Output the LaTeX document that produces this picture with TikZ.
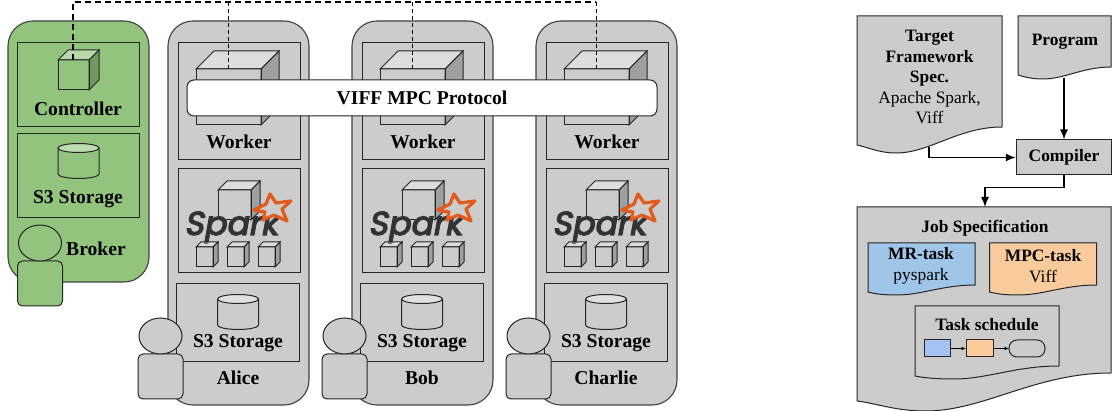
\documentclass[tikz,border=0pt]{standalone}
\usepackage{fontspec}
\setmainfont{Liberation Serif}
\newfontfamily\sparkfont[FakeSlant=0.18,FakeBold=4]{Poppins}
\usetikzlibrary{shapes, positioning, arrows.meta}

\definecolor{panelgray}{HTML}{CCCCCC}
\definecolor{brokergreen}{HTML}{93C47D}
\definecolor{sparkorange}{HTML}{E25A1C}
\definecolor{mrblue}{HTML}{9FC5E8}
\definecolor{mpcorange}{HTML}{F9CB9C}
\definecolor{boxblue}{HTML}{A4C2F4}

\tikzset{
    panel/.style={draw=black!75, rounded corners=25pt, line width=1.1pt},
    inbox/.style={draw=black!85, line width=1pt},
    bigtext/.style={font=\fontsize{19.6}{22}\selectfont\bfseries},
    smalltext/.style={font=\fontsize{17.4}{20.5}\selectfont, align=center},
    boldsmall/.style={font=\fontsize{17.4}{20}\selectfont\bfseries},
    front/.style={draw=black!85, line width=1pt, inner sep=0, outer sep=0, anchor=north west},
    flow/.style={line width=1.5pt, -{Latex[length=10pt,width=8pt]}},
    wire/.style={line width=1pt, dash pattern=on 4pt off 3pt},
    mainwire/.style={line width=1.7pt, dash pattern=on 6pt off 4pt},
    tinyflow/.style={line width=0.9pt, -{Latex[length=4.5pt,width=4pt]}},
}

% name, x, y, width, height, depth
\newcommand{\cubebox}[6]{
    \node[front, minimum width=#4pt, minimum height=#5pt] (#1) at (#2,#3) {};
    \draw[line width=1pt, draw=black!85, fill=white, fill opacity=.35]
        (#1.north west) -- ++(#6,-#6) -- ++(#4,0) -- ++(-#6,#6) -- cycle;
    \draw[line width=1pt, draw=black!85, fill=black, fill opacity=.22]
        (#1.north east) -- ++(#6,-#6) -- ++(0,#5) -- ++(-#6,#6) -- cycle;
}
% name, centre x, top y
\newcommand{\drumbox}[3]{
    \draw[inbox] (#2-20.5,#3) -- ++(0,26) arc[start angle=180, end angle=360, x radius=20.5pt, y radius=4.5pt] -- ++(0,-26);
    \node[ellipse, draw=black!85, line width=1pt, fill=white, fill opacity=.4, inner sep=0, outer sep=0,
          minimum width=41pt, minimum height=9pt] (#1) at (#2,#3) {};
}
% name, centre x, top y of the head, fill
\newcommand{\personbox}[4]{
    \draw[inbox, fill=#4, rounded corners=5pt] (#2-22.5,#3+81) -- (#2-22.5,#3+36) -- (#2+22.5,#3+36) -- (#2+22.5,#3+81) -- cycle;
    \node[ellipse, draw=black!85, line width=1pt, fill=#4, inner sep=0, outer sep=0,
          minimum width=43pt, minimum height=36pt] (#1) at (#2,#3+18) {};
}
% left, top, right, y at right end, y at left end, y of the trough, fill
\newcommand{\docbox}[7]{
    \pgfmathsetmacro{\docwd}{#3-#1}
    \draw[inbox, fill=#7] (#1,#2) -- (#3,#2) -- (#3,#4)
        .. controls (#3-0.3*\docwd,#4) and (#1+0.5*\docwd,#6) .. (#1+0.27*\docwd,#6)
        .. controls (#1+0.15*\docwd,#6) and (#1+0.07*\docwd,#5+2) .. (#1,#5) -- cycle;
}

\begin{document}
\begin{tikzpicture}[x=1pt, y=-1pt]
    \useasboundingbox (0,0) rectangle (1112,411);

    % broker
    \draw[panel, fill=brokergreen] (8,21) rectangle (149,282);
    \node[inbox, minimum width=122pt, minimum height=84pt, inner sep=0] (ctrlbox) at (78,85) {};
    \cubebox{ctrlcube}{58}{60}{31}{30}{10}
    \node[bigtext] (ctrlname) at (78,108.5) {Controller};
    \node[inbox, minimum width=122pt, minimum height=84pt, inner sep=0] (brokerbox) at (78,176) {};
    \drumbox{brokerdrum}{78.5}{148}
    \node[bigtext] (brokerstore) at (78,199) {S3 Storage};
    \personbox{brokerman}{40}{225}{brokergreen}
    \node[bigtext] (brokername) at (96,248.5) {Broker};

    % the three parties
    \foreach \dx/\who/\nm in {0/Alice/a, 184/Bob/b, 368/Charlie/c} {
        \begin{scope}[xshift=\dx pt]
            \draw[panel, fill=panelgray] (168,21) rectangle (309,405);
            \node[inbox, minimum width=122pt, minimum height=117pt, inner sep=0] (work\nm) at (239,101.5) {};
            \cubebox{wcube\nm}{196}{69}{65}{56}{18}
            \node[bigtext] (wname\nm) at (239,141.5) {Worker};

            \node[inbox, minimum width=122pt, minimum height=104pt, inner sep=0] (spark\nm) at (239,221) {};
            \cubebox{scube\nm}{218}{190}{33}{30}{9}
            \node[font=\sparkfont\fontsize{33}{33}\selectfont, text=black!80, inner sep=0] (logo\nm) at (231,227) {Spark};
            \draw[sparkorange, line width=3.2pt, line join=round, fill=panelgray]
                (270,194) -- (276,203) -- (291,201) -- (282,209) -- (287,221) -- (274,215) -- (263,220)
                -- (265,212) -- (254,210) -- (266,204) -- cycle;
            \cubebox{low1\nm}{196}{247}{17}{20}{5}
            \cubebox{low2\nm}{227}{247}{17}{20}{5}
            \cubebox{low3\nm}{258}{247}{17}{20}{5}

            \node[inbox, minimum width=123pt, minimum height=78pt, inner sep=0] (store\nm) at (237.5,323) {};
            \drumbox{drum\nm}{238}{299}
            \node[bigtext] (sname\nm) at (238,343.5) {S3 Storage};
            \node[bigtext] (who\nm) at (238,377.5) {\who};
            \personbox{man\nm}{160.5}{318}{panelgray}
        \end{scope}
    }

    % control wires
    \coordinate (cornerl) at (73,2);
    \coordinate (cornerr) at (596,2);
    \coordinate (ctrltop) at (73,60);
    \coordinate (wtopa) at (228,69);
    \coordinate (wtopb) at (412,69);
    \coordinate (wtopc) at (596,69);
    \draw[mainwire] (ctrltop) -- (cornerl) -- (cornerr);
    \draw[wire] (cornerr) -- (wtopc);
    \draw[wire] (228,2) -- (wtopa);
    \draw[wire] (412,2) -- (wtopb);

    \node[draw=black!85, line width=1pt, fill=white, rounded corners=7pt, minimum width=470pt, minimum height=36pt,
          inner sep=0, bigtext] (viff) at (422,98) {VIFF MPC Protocol};

    % compiler flow
    \docbox{857}{16}{1002}{127}{145}{153}{panelgray}
    \node[smalltext] (target) at (929.5,77) {\textbf{Target}\\\textbf{Framework}\\\textbf{Spec.}\\Apache Spark,\\Viff};
    \docbox{1018}{16}{1111}{67}{75}{79}{panelgray}
    \node[boldsmall] (program) at (1065,42) {Program};
    \node[inbox, fill=panelgray, minimum width=95.5pt, minimum height=35pt, inner sep=0, boldsmall] (compiler) at (1064,157.5) {Compiler};
    \coordinate (targetout) at (929,147);
    \coordinate (programout) at (1064,78);
    \coordinate (jobin) at (985,207);
    \draw[flow] (targetout) |- (compiler.west);
    \draw[flow] (programout) -- (compiler.north);
    \draw[flow] (compiler.south) |- ++(-40,12) -| (jobin);

    % job specification
    \docbox{857}{207}{1111}{373}{401}{411}{panelgray}
    \node[boldsmall] (job) at (985,228) {Job Specification};
    \docbox{868}{243}{975}{285}{292}{295}{mrblue}
    \node[smalltext] (mrtask) at (921,266) {\textbf{MR-task}\\pyspark};
    \docbox{989.5}{243}{1096.5}{285}{292}{295}{mpcorange}
    \node[smalltext] (mpctask) at (1043,266) {\textbf{MPC-task}\\Viff};
    \docbox{915}{306}{1059}{366}{376}{379}{panelgray}
    \node[boldsmall] (sched) at (987,325) {Task schedule};
    \node[inbox, fill=boxblue, minimum width=26pt, minimum height=17pt, inner sep=0, outer sep=0] (stepa) at (937,348.5) {};
    \node[inbox, fill=mpcorange, minimum width=27pt, minimum height=17pt, inner sep=0, outer sep=0] (stepb) at (979.5,348.5) {};
    \node[inbox, fill=panelgray, rounded corners=8pt, minimum width=36pt, minimum height=17pt, inner sep=0, outer sep=0] (stepc) at (1027,348.5) {};
    \draw[tinyflow] (stepa) -- (stepb);
    \draw[tinyflow] (stepb) -- (stepc);
\end{tikzpicture}
\end{document}
